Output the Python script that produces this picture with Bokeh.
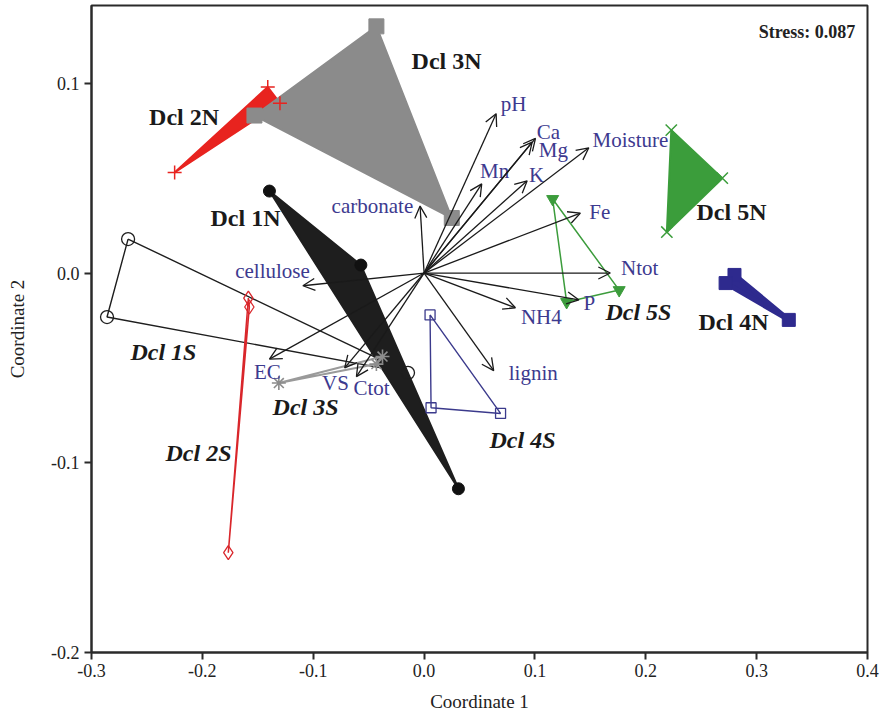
from bokeh.plotting import figure
from bokeh.models import (ColumnDataSource, Range1d, FixedTicker, CustomJSTickFormatter,
                          Arrow, OpenHead, Label)
from bokeh.core.properties import value
from bokeh.embed import file_html
from bokeh.resources import INLINE

# ---- NMDS site scores (Coordinate 1, Coordinate 2) ----
dcl1n_x = [-0.1395, -0.057, 0.031]
dcl1n_y = [0.0432, 0.0042, -0.1137]
dcl2n_x = [-0.225, -0.141, -0.130]
dcl2n_y = [0.053, 0.098, 0.0895]
dcl3n_x = [-0.043, -0.153, 0.025]
dcl3n_y = [0.130, 0.083, 0.029]
dcl4n_x = [0.280, 0.272, 0.329]
dcl4n_y = [-0.001, -0.0053, -0.0247]
dcl5n_x = [0.223, 0.269, 0.219]
dcl5n_y = [0.0753, 0.050, 0.0216]

dcl1s_x = [-0.267, -0.286, -0.0145]
dcl1s_y = [0.0179, -0.0232, -0.0526]
dcl2s_x = [-0.1585, -0.1576, -0.1766]
dcl2s_y = [-0.0132, -0.0179, -0.1474]
dcl3s_x = [-0.131, -0.0375, -0.043]
dcl3s_y = [-0.058, -0.044, -0.048]
dcl4s_x = [0.0054, 0.0063, 0.069]
dcl4s_y = [-0.0221, -0.071, -0.074]
dcl5s_x = [0.116, 0.1286, 0.176]
dcl5s_y = [0.039, -0.0153, -0.009]

# ---- environmental vectors (fitted from origin) ----
env_names = ["pH", "Ca", "Mg", "Mn", "K", "Moisture", "Fe", "Ntot", "P", "NH4",
             "lignin", "carbonate", "cellulose", "EC", "VS", "Ctot"]
env_x = [0.065, 0.1005, 0.0975, 0.052, 0.093, 0.1486, 0.141, 0.168, 0.1397, 0.0824,
         0.0628, -0.0036, -0.1093, -0.1395, -0.0716, -0.061]
env_y = [0.084, 0.071, 0.069, 0.047, 0.0486, 0.066, 0.0316, 0.0, -0.0142, -0.0183,
         -0.0514, 0.0353, -0.0067, -0.0454, -0.050, -0.0546]

stress_value = 0.087

x_ticks = [-0.3, -0.2, -0.1, 0.0, 0.1, 0.2, 0.3, 0.4]
y_ticks = [-0.2, -0.1, 0.0, 0.1]

# ---- text placement (data units) ----
env_label_x = [0.0807, 0.1122, 0.1167, 0.0637, 0.1014, 0.1862, 0.1585, 0.1945, 0.149, 0.1058,
               0.0985, -0.0466, -0.1367, -0.1414, -0.0799, -0.0474]
env_label_y = [0.0889, 0.0742, 0.0647, 0.0537, 0.0516, 0.0700, 0.0321, 0.0026, -0.0158, -0.0232,
               -0.0526, 0.0353, 0.0011, -0.0521, -0.0579, -0.0605]

north_labels = ["Dcl 3N", "Dcl 2N", "Dcl 1N", "Dcl 5N", "Dcl 4N"]
north_label_x = [0.0203, -0.2165, -0.1611, 0.2773, 0.2791]
north_label_y = [0.1116, 0.0821, 0.0289, 0.0321, -0.0258]
south_labels = ["Dcl 1S", "Dcl 3S", "Dcl 2S", "Dcl 4S", "Dcl 5S"]
south_label_x = [-0.2351, -0.1069, -0.2035, 0.0888, 0.1934]
south_label_y = [-0.0416, -0.0705, -0.0947, -0.0879, -0.0205]

SERIF = "Liberation Serif"
NAVY_TXT = "#3d3a8f"

p = figure(width=882, height=714, output_backend="svg", toolbar_location=None,
           x_range=Range1d(-0.3, 0.4), y_range=Range1d(-0.2, 0.141),
           min_border_left=91, min_border_right=15, min_border_top=5, min_border_bottom=61)

p.background_fill_color = "white"
p.border_fill_color = "white"
p.grid.visible = False
p.outline_line_color = "#2a2a2a"
p.outline_line_width = 2

for ax, ticks in ((p.xaxis, x_ticks), (p.yaxis, y_ticks)):
    ax.ticker = FixedTicker(ticks=ticks)
    ax.formatter = CustomJSTickFormatter(code="return tick.toFixed(1);")
    ax.axis_line_color = "#2a2a2a"
    ax.axis_line_width = 2
    ax.major_tick_line_color = "#2a2a2a"
    ax.major_tick_line_width = 2
    ax.major_tick_out = 7
    ax.major_tick_in = 0
    ax.minor_tick_line_color = None
    ax.major_label_text_font = SERIF
    ax.major_label_text_font_size = "18px"
    ax.major_label_text_color = "#222222"
    ax.axis_label_text_font = SERIF
    ax.axis_label_text_font_size = "19px"
    ax.axis_label_text_font_style = "normal"
    ax.axis_label_text_color = "#222222"

p.xaxis.axis_label = "Coordinate 1"
p.yaxis.axis_label = "Coordinate 2"
p.xaxis.major_label_standoff = 4
p.xaxis.axis_label_standoff = 11
p.yaxis.major_label_standoff = 5
p.yaxis.axis_label_standoff = 20


def closed(v):
    return list(v) + [v[0]]


# open (S) groups drawn as outlined polygons
p.line(closed(dcl1s_x), closed(dcl1s_y), line_color="#1e1e1e", line_width=1.4)

# filled (N) groups
p.patch(dcl2n_x, dcl2n_y, fill_color="#e8231f", line_color="#e8231f", line_width=2)
p.patch(dcl3n_x, dcl3n_y, fill_color="#8b8b8b", line_color="#8b8b8b", line_width=2)
p.patch(dcl1n_x, dcl1n_y, fill_color="#1e1e1e", line_color="#1e1e1e", line_width=2)
p.patch(dcl5n_x, dcl5n_y, fill_color="#3b9d3b", line_color="#3b9d3b", line_width=2)
p.patch(dcl4n_x, dcl4n_y, fill_color="#2e2a8e", line_color="#2e2a8e", line_width=5,
        line_join="round")

p.line(closed(dcl2s_x), closed(dcl2s_y), line_color="#d9262b", line_width=1.5)
p.line(closed(dcl3s_x), closed(dcl3s_y), line_color="#9a9a9a", line_width=2)
p.line(closed(dcl4s_x), closed(dcl4s_y), line_color="#3b3a8c", line_width=1.4)
p.line(closed(dcl5s_x), closed(dcl5s_y), line_color="#3c9c3c", line_width=1.5)

# site markers
p.scatter(dcl2n_x, dcl2n_y, marker="cross", size=14, line_color="#e8231f", line_width=1.5)
p.scatter(dcl3n_x, dcl3n_y, marker="square", size=15, fill_color="#8b8b8b", line_color="#8b8b8b")
p.scatter(dcl1n_x, dcl1n_y, marker="circle", size=12, fill_color="#111111", line_color="#111111")
p.scatter(dcl5n_x, dcl5n_y, marker="x", size=16, line_color="#3b9d3b", line_width=1.5)
p.scatter(dcl4n_x, dcl4n_y, marker="square", size=13, fill_color="#2e2a8e", line_color="#2e2a8e")

p.scatter(dcl1s_x, dcl1s_y, marker="circle", size=13, fill_color=None, line_color="#1e1e1e",
          line_width=1.3)
p.scatter(dcl2s_x, dcl2s_y, marker="diamond", size=14, fill_color=None, line_color="#d9262b",
          line_width=1.3)
p.scatter(dcl3s_x, dcl3s_y, marker="asterisk", size=14, line_color="#8c8c8c", line_width=1.6)
p.scatter(dcl4s_x, dcl4s_y, marker="square", size=10, fill_color=None, line_color="#3b3a8c",
          line_width=1.3)
p.scatter(dcl5s_x, dcl5s_y, marker="inverted_triangle", size=12, fill_color="#3c9c3c",
          line_color="#3c9c3c")

# environmental vectors
env_src = ColumnDataSource(dict(x=env_x, y=env_y))
p.add_layout(Arrow(end=OpenHead(size=12, line_color="#1a1a1a", line_width=1.3),
                   x_start=0, y_start=0, x_end="x", y_end="y", source=env_src,
                   line_color="#1a1a1a", line_width=1.3))

p.text(x=env_label_x, y=env_label_y, text=env_names, text_font=value(SERIF),
       text_font_size="21px", text_color=NAVY_TXT, text_align="center",
       text_baseline="middle")

p.text(x=north_label_x, y=north_label_y, text=north_labels, text_font=value(SERIF),
       text_font_size="24px", text_font_style="bold", text_color="#1a1a1a",
       text_align="center", text_baseline="middle")
p.text(x=south_label_x, y=south_label_y, text=south_labels, text_font=value(SERIF),
       text_font_size="24px", text_font_style="bold italic", text_color="#1a1a1a",
       text_align="center", text_baseline="middle")

p.add_layout(Label(x=0.389, y=0.127, text=f"Stress: {stress_value:.3f}", text_font=SERIF,
                   text_font_size="18px", text_font_style="bold", text_color="#222222",
                   text_align="right", text_baseline="middle"))

open("out.html", "w").write(file_html(p, INLINE))
